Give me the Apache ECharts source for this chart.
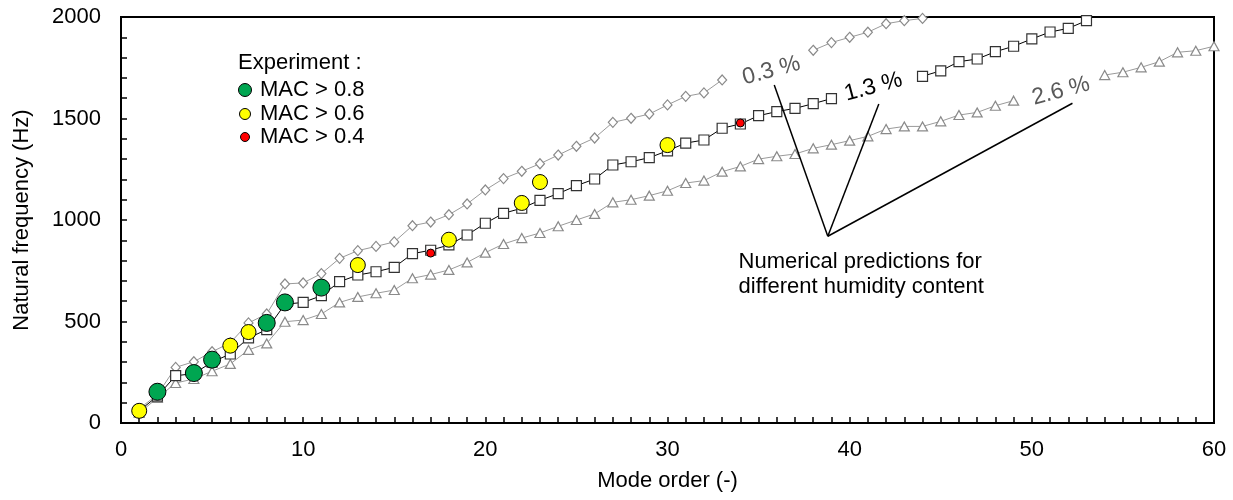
<!DOCTYPE html>
<html>
<head>
<meta charset="utf-8">
<script src="https://cdn.jsdelivr.net/npm/echarts@6/dist/echarts.min.js"></script>
<style>
  html, body { margin: 0; padding: 0; background: #fff; }
  #chart { width: 1233px; height: 500px; }
</style>
</head>
<body>
<div id="chart"></div>
<script>
// numerical predictions, mode order 1..n (null = hidden behind label)
const rh03 = [70, 140, 274, 302, 351, 395, 493, 537, 685, 690, 736, 811, 849, 870, 892, 972, 990, 1026, 1079, 1148,
    1204, 1240, 1277, 1320, 1363, 1404, 1481, 1501, 1522, 1567, 1609, 1626, 1690, null, null, null, null, 1836, 1874, 1900,
    1925, 1967, 1982, 1993, 2030];
const rh13 = [60, 132, 233, 243, 300, 340, 419, 460, 585, 594, 627, 696, 729, 745, 767, 834, 851, 877, 926, 984,
    1033, 1058, 1097, 1130, 1169, 1202, 1271, 1287, 1307, 1341, 1379, 1394, 1452, 1473, 1514, 1534, 1550, 1573, 1598, null,
    null, null, null, 1708, 1735, 1780, 1793, 1829, 1856, 1892, 1926, 1944, 1982];
const rh26 = [50, 123, 197, 217, 255, 291, 360, 392, 499, 507, 537, 594, 621, 639, 655, 713, 731, 754, 791, 839,
    882, 911, 936, 969, 1000, 1030, 1087, 1100, 1120, 1144, 1182, 1194, 1238, 1264, 1300, 1314, 1325, 1353, 1371, 1391,
    1412, 1448, 1461, 1461, 1486, 1517, 1530, 1563, 1588, null, null, null, null, 1714, 1728, 1752, 1780, 1826, 1834, 1856];

// experiment
const mac08Modes = [2, 4, 5, 8, 9, 11];
const mac08Freq = [154, 246, 312, 493, 594, 667];
const mac06Modes = [1, 6, 7, 13, 18, 22, 23, 30];
const mac06Freq = [60, 381, 448, 778, 903, 1084, 1187, 1369];
const mac04Modes = [17, 34];
const mac04Freq = [837, 1478];

const FONT = 'Liberation Sans, Arial, sans-serif';

function toPairs(arr) {
    return arr.map(function (v, i) { return [i + 1, v == null ? '-' : v]; });
}
function zipPairs(xs, ys) {
    return xs.map(function (x, i) { return [x, ys[i]]; });
}

function simSeries(name, data, symbol, size, lineColor, borderColor, z) {
    return {
        name: name,
        type: 'line',
        data: toPairs(data),
        symbol: symbol,
        symbolSize: size,
        showAllSymbol: true,
        connectNulls: false,
        z: z,
        lineStyle: {color: lineColor, width: 1},
        itemStyle: {color: '#fff', borderColor: borderColor, borderWidth: 1.2},
        emphasis: {disabled: true}
    };
}

function expSeries(name, xs, ys, color, size) {
    return {
        name: name,
        type: 'scatter',
        data: zipPairs(xs, ys),
        symbol: 'circle',
        symbolSize: size,
        z: 10,
        itemStyle: {color: color, borderColor: '#000', borderWidth: 1, opacity: 1},
        emphasis: {disabled: true}
    };
}

let chart = echarts.init(document.getElementById('chart'));
let option = {
    animation: false,
    textStyle: {fontFamily: FONT},
    grid: {left: 121, right: 19, top: 17, bottom: 77, show: true, borderColor: '#000', borderWidth: 2},
    xAxis: {
        type: 'value',
        min: 0, max: 60, interval: 10,
        name: 'Mode order (-)',
        nameLocation: 'middle',
        nameGap: 47,
        nameTextStyle: {fontSize: 22, color: '#000', fontFamily: FONT},
        axisLine: {lineStyle: {color: '#000', width: 2}},
        axisTick: {inside: true, length: 6, lineStyle: {color: '#000', width: 1.5}},
        minorTick: {show: true, splitNumber: 10, length: 6, lineStyle: {color: '#000', width: 1.5}},
        axisLabel: {fontSize: 22, color: '#000', margin: 16, fontFamily: FONT},
        splitLine: {show: false}
    },
    yAxis: {
        type: 'value',
        min: 0, max: 2000, interval: 500,
        name: 'Natural frequency (Hz)',
        nameLocation: 'middle',
        nameGap: 88,
        nameTextStyle: {fontSize: 22, color: '#000', fontFamily: FONT},
        axisLine: {show: true, lineStyle: {color: '#000', width: 2}},
        axisTick: {show: true, inside: true, length: 6, lineStyle: {color: '#000', width: 1.5}},
        minorTick: {show: true, splitNumber: 5, length: 6, lineStyle: {color: '#000', width: 1.5}},
        axisLabel: {fontSize: 22, color: '#000', margin: 20, fontFamily: FONT,
            formatter: function (v) { return String(v); }},
        splitLine: {show: false}
    },
    series: [
        simSeries('0.3 %', rh03, 'diamond', [9, 10], '#9a9a9a', '#8a8a8a', 2),
        simSeries('2.6 %', rh26, 'triangle', [10, 9], '#9a9a9a', '#8a8a8a', 2),
        simSeries('1.3 %', rh13, 'rect', 10, '#000', '#333', 3),
        expSeries('MAC > 0.8', mac08Modes, mac08Freq, '#00a651', 17),
        expSeries('MAC > 0.6', mac06Modes, mac06Freq, '#ffff00', 15),
        expSeries('MAC > 0.4', mac04Modes, mac04Freq, '#ff0000', 8)
    ]
};
chart.setOption(option);

// annotation anchors in data space
const hub = [38.8, 920];
const tips = [[35.86, 1665], [41.6, 1571], [52.23, 1575]];
const tags = [
    {text: '0.3 %', at: [35.7, 1735], color: '#595959'},
    {text: '1.3 %', at: [41.3, 1655], color: '#000'},
    {text: '2.6 %', at: [51.6, 1635], color: '#595959'}
];
const noteAt = [33.9, 855];

function px(p) { return chart.convertToPixel({gridIndex: 0}, p); }

let graphics = [];
let h = px(hub);
tips.forEach(function (t) {
    let p = px(t);
    graphics.push({
        type: 'line', z: 20, silent: true,
        shape: {x1: h[0], y1: h[1], x2: p[0], y2: p[1]},
        style: {stroke: '#000', lineWidth: 1.5}
    });
});
tags.forEach(function (t) {
    let p = px(t.at);
    graphics.push({
        type: 'text', z: 21, silent: true,
        x: p[0], y: p[1], rotation: 15 * Math.PI / 180,
        style: {text: t.text, fill: t.color, font: '23px ' + FONT, align: 'center', verticalAlign: 'middle',
            backgroundColor: '#fff', padding: [0, 3]}
    });
});
let n = px(noteAt);
graphics.push({
    type: 'text', z: 21, silent: true,
    x: n[0], y: n[1],
    style: {text: 'Numerical predictions for\ndifferent humidity content', fill: '#000', font: '22px ' + FONT,
        lineHeight: 25, align: 'left', verticalAlign: 'top'}
});

// legend box
graphics.push({type: 'text', z: 21, x: 238, y: 63, silent: true,
    style: {text: 'Experiment :', fill: '#000', font: '22px ' + FONT, verticalAlign: 'middle'}});
const legendItems = [['MAC > 0.8', '#00a651', 6.5, 90], ['MAC > 0.6', '#ffff00', 5.5, 114], ['MAC > 0.4', '#ff0000', 4.5, 137]];
legendItems.forEach(function (it) {
    graphics.push({type: 'circle', z: 21, silent: true, shape: {cx: 245, cy: it[3], r: it[2]},
        style: {fill: it[1], stroke: '#000', lineWidth: 1}});
    graphics.push({type: 'text', z: 21, silent: true, x: 260, y: it[3],
        style: {text: it[0], fill: '#000', font: '22px ' + FONT, verticalAlign: 'middle'}});
});

chart.setOption({graphic: graphics});
</script>
</body>
</html>
